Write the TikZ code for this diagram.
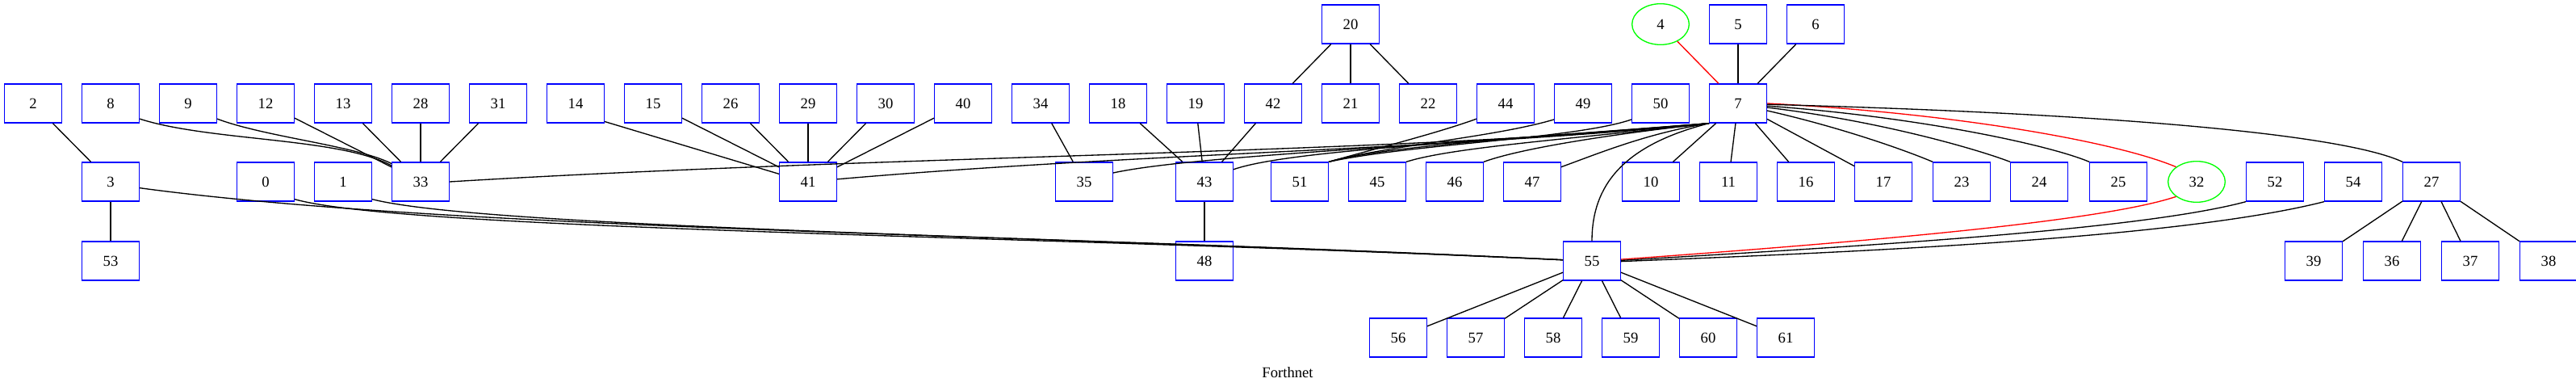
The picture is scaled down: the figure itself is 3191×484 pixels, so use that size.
\documentclass[tikz,border=0pt]{standalone}
\usepackage{fontspec}
\setmainfont{Liberation Serif}
\usetikzlibrary{shapes.geometric}
\begin{document}
\begin{tikzpicture}[x=0.75pt,y=-0.75pt,
  bx/.style={draw=blue,line width=1pt,minimum width=53pt,minimum height=36pt,inner sep=0pt,font=\fontsize{14}{16}\selectfont},
  el/.style={ellipse,draw=green,line width=1pt,minimum width=53pt,minimum height=38pt,inner sep=0pt,font=\fontsize{14}{16}\selectfont},
  ed/.style={line width=1pt,draw=black},
  rd/.style={line width=1pt,draw=red}]
\useasboundingbox (0,0) rectangle (3191,484);
% row 0
\node[bx] (n20) at (1673,30) {20};
\node[el] (n4) at (2057,30) {4};
\node[bx] (n5) at (2153,30) {5};
\node[bx] (n6) at (2249,30) {6};
% row 1
\foreach \n/\x in {2/41,8/137,9/233,12/329,13/425,28/521,31/617,14/713,15/809,26/905,29/1001,30/1097,40/1193,34/1289,18/1385,19/1481,42/1577,21/1673,22/1769,44/1865,49/1961,50/2057,7/2153}
  \node[bx] (n\n) at (\x,128) {\n};
% row 2
\foreach \n/\x in {3/137,0/329,1/425,33/521,41/1001,35/1343,43/1492,51/1610,45/1706,46/1802,47/1898,10/2045,11/2141,16/2237,17/2333,23/2430,24/2526,25/2624,52/2818,54/2915,27/3012}
  \node[bx] (n\n) at (\x,225) {\n};
\node[el] (n32) at (2721,225) {32};
% row 3
\foreach \n/\x in {53/137,48/1492,55/1972,39/2866,36/2963,37/3060,38/3157}
  \node[bx] (n\n) at (\x,323) {\n};
% row 4
\foreach \n/\x in {56/1732,57/1828,58/1924,59/2020,60/2116,61/2212}
  \node[bx] (n\n) at (\x,418) {\n};
\node[font=\fontsize{14}{16}\selectfont] (lbl) at (1595,461) {Forthnet};
% straight edges
\draw[ed] (n2) -- (n3);
\draw[ed] (n3) -- (n53);
\foreach \s in {12,13,28,31} \draw[ed] (n\s) -- (n33);
\draw[ed] (n14.-32) -- (n41.165);
\foreach \s in {15,26,29,30,40} \draw[ed] (n\s) -- (n41);
\draw[ed] (n34) -- (n35);
\foreach \s in {18,19,42} \draw[ed] (n\s) -- (n43);
\draw[ed] (n43) -- (n48);
\foreach \t in {42,21,22} \draw[ed] (n20) -- (n\t);
\draw[ed] (n5) -- (n7);
\draw[ed] (n6) -- (n7);
\draw[rd] (n4) -- (n7);
\foreach \t in {10,11,16,17} \draw[ed] (n7) -- (n\t);
\foreach \t in {39,36,37,38} \draw[ed] (n27) -- (n\t);
\foreach \t in {56,57,58,59,60,61} \draw[ed] (n55) -- (n\t);
% curved edges, left part
\draw[ed] (n8.-28) .. controls (260,175) and (420,170) .. (n33.151);
\draw[ed] (n9.-28) .. controls (330,170) and (440,180) .. (n33.148);
\draw[ed] (n3.-12) .. controls (560,285) and (1300,290) .. (n55.178);
\draw[ed] (n0.-31) .. controls (500,285) and (1300,292) .. (n55.178);
\draw[ed] (n1.-31) .. controls (600,282) and (1300,292) .. (n55.178);
% edges from 7 to the left
\draw[ed] (n7.south west) .. controls (1750,190) and (1100,192) .. (n33.east);
\draw[ed] (n7.south west) .. controls (1800,185) and (1400,190) .. (n41.5);
\draw[ed] (n7.south west) .. controls (1800,180) and (1480,192) .. (n35.17);
\draw[ed] (n7.south west) .. controls (1850,175) and (1600,185) .. (n43.23);
\draw[ed] (n7.south west) .. controls (1900,170) and (1720,180) .. (n51.north east);
\draw[ed] (n44.208) .. controls (1780,165) and (1700,185) .. (n51.north east);
\draw[ed] (n49.209) .. controls (1850,170) and (1720,180) .. (n51.north east);
\draw[ed] (n50.209) .. controls (1950,172) and (1750,178) .. (n51.north east);
\draw[ed] (n7.south west) .. controls (1950,172) and (1800,182) .. (n45.north east);
\draw[ed] (n7.south west) .. controls (1980,168) and (1880,185) .. (n46.north east);
\draw[ed] (n7.south west) .. controls (2040,165) and (1980,190) .. (n47.27);
\draw[ed] (n7.south west) .. controls (2010,180) and (1972,230) .. (n55.north);
% edges from 7 to the right
\draw[ed] (n7.-14) .. controls (2290,160) and (2370,190) .. (n23.north west);
\draw[ed] (n7.-8) .. controls (2330,150) and (2450,185) .. (n24.north west);
\draw[ed] (n7.-5) .. controls (2380,145) and (2540,180) .. (n25.north west);
\draw[rd] (n7.east) .. controls (2420,140) and (2620,175) .. (n32.north west);
\draw[ed] (n7.-2) .. controls (2600,140) and (2900,165) .. (n27.north west);
% edges to 55 from the right
\draw[rd] (n32.south west) .. controls (2600,275) and (2300,300) .. (n55.3);
\draw[ed] (n52.south west) .. controls (2650,285) and (2300,305) .. (n55.1);
\draw[ed] (n54.south west) .. controls (2700,295) and (2300,312) .. (n55.-1);
\end{tikzpicture}
\end{document}
